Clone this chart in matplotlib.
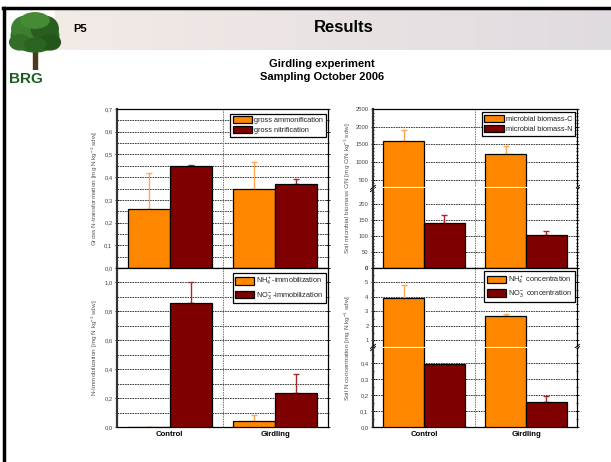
import numpy as np
import matplotlib
matplotlib.use("Agg")
import matplotlib.pyplot as plt
from matplotlib.lines import Line2D
from matplotlib.patches import Rectangle, Ellipse
from matplotlib.ticker import MultipleLocator, FuncFormatter

plt.rcParams['font.family'] = ['Liberation Sans', 'DejaVu Sans']
plt.rcParams['mathtext.fontset'] = 'custom'
plt.rcParams['mathtext.rm'] = 'Liberation Sans'
plt.rcParams['mathtext.it'] = 'Liberation Sans:italic'

# data
groups = ["Control", "Girdling"]

gross_amm = [0.26, 0.35]
gross_amm_err = [0.16, 0.115]
gross_nit = [0.45, 0.37]
gross_nit_err = [0.002, 0.02]

nh4_imm = [0.003, 0.043]
nh4_imm_err = [0.0, 0.042]
no3_imm = [0.86, 0.235]
no3_imm_err = [0.14, 0.135]

bio_c = [1605, 1232]
bio_c_err = [295, 230]
bio_n = [143, 103]
bio_n_err = [25, 12]

nh4_conc = [3.92, 2.68]
nh4_conc_err = [0.9, 0.17]
no3_conc = [0.395, 0.157]
no3_conc_err = [0.0, 0.04]

ORANGE = '#ff8700'
DRED = '#7f0000'
ORANGE_ERR = '#ffa850'
DRED_ERR = '#a52a2a'

W, H = 611, 462
fig = plt.figure(figsize=(W / 100, H / 100), dpi=100)


def fx(px):
    return px / W


def fy(py):
    return 1 - py / H


def comma(dec):
    return FuncFormatter(lambda v, p: f"{v:.{dec}f}".replace('.', ','))


def make_ax(x0, x1, y0, y1):
    return fig.add_axes([fx(x0), fy(y1), fx(x1) - fx(x0), fy(y0) - fy(y1)])


def style_ax(ax, grid_minor=True):
    ax.set_xlim(-0.5, 1.5)
    ax.set_xticks([0, 1])
    ax.set_xticklabels([])
    ax.tick_params(axis='x', length=0)
    ax.tick_params(axis='y', which='both', direction='inout', labelsize=4.2,
                   labelcolor='#444444', right=True, width=0.6, pad=1.5)
    ax.tick_params(axis='y', which='major', length=3.5)
    ax.tick_params(axis='y', which='minor', length=2)
    ax.grid(axis='y', which='major', color='#222222', linestyle=(0, (2, 1)), linewidth=0.6)
    if grid_minor:
        ax.grid(axis='y', which='minor', color='#222222', linestyle=(0, (2, 1)), linewidth=0.6)
    ax.axvline(0.5, color='#777777', linestyle=(0, (1.5, 1)), linewidth=0.7, zorder=1)
    ax.set_axisbelow(True)
    for s in ax.spines.values():
        s.set_linewidth(0.9)
    ax.spines['left'].set_linewidth(1.6)
    ax.spines['left'].set_color('#333333')


def draw_bars(ax, a, aerr, b, berr, la=None, lb=None):
    x = np.arange(len(groups))
    w = 0.4
    ax.bar(x - w / 2, a, w, color=ORANGE, edgecolor='black', linewidth=0.9, label=la, zorder=3)
    ax.bar(x + w / 2, b, w, color=DRED, edgecolor='black', linewidth=0.9, label=lb, zorder=3)
    ax.errorbar(x - w / 2, a, yerr=[np.zeros(len(a)), aerr], fmt='none', ecolor=ORANGE_ERR,
                elinewidth=1, capsize=2, capthick=1, zorder=2)
    ax.errorbar(x + w / 2, b, yerr=[np.zeros(len(b)), berr], fmt='none', ecolor=DRED_ERR,
                elinewidth=1, capsize=2, capthick=1, zorder=2)


def legend(ax):
    lg = ax.legend(loc='upper right', fontsize=5.3, frameon=True, fancybox=False,
                   edgecolor='black', framealpha=1, handlelength=2.6, handleheight=1.1,
                   borderpad=0.35, labelspacing=0.3, handletextpad=0.3,
                   bbox_to_anchor=(1.0, 0.985), borderaxespad=0.3)
    lg.get_frame().set_linewidth(0.9)
    for t in lg.get_texts():
        t.set_color('#222222')


def break_marks(ax_top):
    # white gap across the bars and small slanted marks on both spines
    ax_top.plot([-0.5, 1.5], [0, 0], transform=ax_top.get_xaxis_transform(), color='white',
                linewidth=1.6, clip_on=False, zorder=5)
    for xa in (0, 1):
        for dy in (-0.014, 0.014):
            ax_top.plot([xa - 0.012, xa + 0.012], [dy - 0.025, dy + 0.025],
                        transform=ax_top.transAxes, color='black', linewidth=0.7,
                        clip_on=False, zorder=6)


# panel corners in pixels
L0, L1 = 117, 328
R0, R1 = 373, 577
T0, MID, B1 = 109, 268, 427

ax1 = make_ax(L0, L1, T0, MID)
draw_bars(ax1, gross_amm, gross_amm_err, gross_nit, gross_nit_err,
          'gross ammonification', 'gross nitrification')
ax1.set_ylim(0, 0.7)
ax1.yaxis.set_major_locator(MultipleLocator(0.1))
ax1.yaxis.set_minor_locator(MultipleLocator(0.05))
ax1.yaxis.set_major_formatter(comma(1))
style_ax(ax1)
legend(ax1)
ax1.set_ylabel('Gross N-transformation [mg N kg$^{-1}$ sdw]', fontsize=4.6, color='#555555', labelpad=3)

ax2 = make_ax(L0, L1, MID, B1)
draw_bars(ax2, nh4_imm, nh4_imm_err, no3_imm, no3_imm_err,
          'NH$_4^+$-immobilization', 'NO$_3^-$-immobilization')
ax2.set_ylim(0, 1.1)
ax2.yaxis.set_major_locator(MultipleLocator(0.2))
ax2.yaxis.set_minor_locator(MultipleLocator(0.1))
ax2.yaxis.set_major_formatter(comma(1))
style_ax(ax2)
legend(ax2)
ax2.set_ylabel('N-Immobilization [mg N kg$^{-1}$ sdw]', fontsize=4.6, color='#555555', labelpad=3)
ax2.set_xticklabels(groups, fontsize=5.6, fontweight='bold')
ax2.tick_params(axis='x', pad=3)

# right column, split axes
SPL1 = (T0 + MID) / 2
SPL2 = (MID + B1) / 2

ax3u = make_ax(R0, R1, T0, SPL1)
ax3l = make_ax(R0, R1, SPL1, MID)
for ax in (ax3u, ax3l):
    draw_bars(ax, bio_c, bio_c_err, bio_n, bio_n_err, 'microbial biomass-C', 'microbial biomass-N')
ax3u.set_ylim(250, 2500)
ax3u.yaxis.set_major_locator(MultipleLocator(500))
ax3u.yaxis.set_minor_locator(MultipleLocator(100))
ax3l.set_ylim(0, 250)
ax3l.yaxis.set_minor_locator(MultipleLocator(10))
ax3l.set_yticks([0, 50, 100, 150, 200])

ax4u = make_ax(R0, R1, MID, SPL2)
ax4l = make_ax(R0, R1, SPL2, B1)
for ax in (ax4u, ax4l):
    draw_bars(ax, nh4_conc, nh4_conc_err, no3_conc, no3_conc_err,
              'NH$_4^+$ concentration', 'NO$_3^-$ concentration')
ax4u.set_ylim(0.5, 6)
ax4u.set_yticks([1, 2, 3, 4, 5, 6])
ax4u.yaxis.set_minor_locator(MultipleLocator(0.5))
ax4l.set_ylim(0, 0.5)
ax4l.set_yticks([0, 0.1, 0.2, 0.3, 0.4])
ax4l.yaxis.set_minor_locator(MultipleLocator(0.05))
ax4l.yaxis.set_major_formatter(comma(1))

for up, lo in ((ax3u, ax3l), (ax4u, ax4l)):
    style_ax(up, grid_minor=False)
    style_ax(lo, grid_minor=False)
    up.spines['bottom'].set_visible(False)
    lo.spines['top'].set_visible(False)
    legend(up)
    break_marks(up)

ax4l.set_xticklabels(groups, fontsize=5.6, fontweight='bold')
ax4l.tick_params(axis='x', pad=3)

fig.text(fx(348), fy((T0 + MID) / 2), 'Soil microbial biomass C/N [mg C/N kg$^{-1}$ sdw]',
         rotation=90, ha='center', va='center', fontsize=4.6, color='#555555')
fig.text(fx(348), fy((MID + B1) / 2), 'Soil N concentration [mg N kg$^{-1}$ sdw]',
         rotation=90, ha='center', va='center', fontsize=4.6, color='#555555')

# header banner
ban = fig.add_axes([fx(55), fy(50), 1 - fx(55), fy(10) - fy(50)])
grad = np.linspace(0, 1, 200)
c0 = np.array([0.95, 0.92, 0.90])
c1 = np.array([0.88, 0.86, 0.88])
img = c0[None, :] * (1 - grad[:, None]) + c1[None, :] * grad[:, None]
ban.imshow(img[None, :, :], aspect='auto', extent=[0, 1, 0, 1])
ban.set_axis_off()

# logo tree
lg_ax = fig.add_axes([fx(8), fy(70), fx(54), fy(11) - fy(70)])
lg_ax.set_xlim(0, 1)
lg_ax.set_ylim(0, 1)
lg_ax.set_axis_off()
lg_ax.add_patch(Rectangle((0.47, 0.0), 0.07, 0.35, color='#4a3a20'))
for (cx, cy, w, h, col) in [(0.5, 0.58, 0.88, 0.55, '#2f6b22'), (0.32, 0.7, 0.5, 0.42, '#3d8030'),
                            (0.68, 0.7, 0.5, 0.42, '#2a5e1e'), (0.5, 0.84, 0.52, 0.26, '#478a36'),
                            (0.22, 0.47, 0.38, 0.26, '#356f27'), (0.78, 0.47, 0.38, 0.26, '#24561a'),
                            (0.5, 0.44, 0.4, 0.2, '#2b6420')]:
    lg_ax.add_patch(Ellipse((cx, cy), w, h, color=col))

fig.text(fx(9), fy(79), 'BRG', fontsize=11, fontweight='bold', color='#1b5e20', va='center')
fig.text(fx(73), fy(29), 'P5', fontsize=8, fontweight='bold', color='black', va='center')
fig.text(fx(344), fy(28), 'Results', fontsize=12, fontweight='bold', color='black', va='center', ha='center')
fig.text(fx(322), fy(64), 'Girdling experiment', fontsize=8, fontweight='bold', va='center', ha='center')
fig.text(fx(322), fy(77), 'Sampling October 2006', fontsize=8, fontweight='bold', va='center', ha='center')

# slide frame
fig.add_artist(Line2D([fx(3), 1], [fy(8), fy(8)], color='black', linewidth=2.5))
fig.add_artist(Line2D([fx(4), fx(4)], [fy(8), 0], color='black', linewidth=2.5))

fig.savefig('out.png', dpi=100)
